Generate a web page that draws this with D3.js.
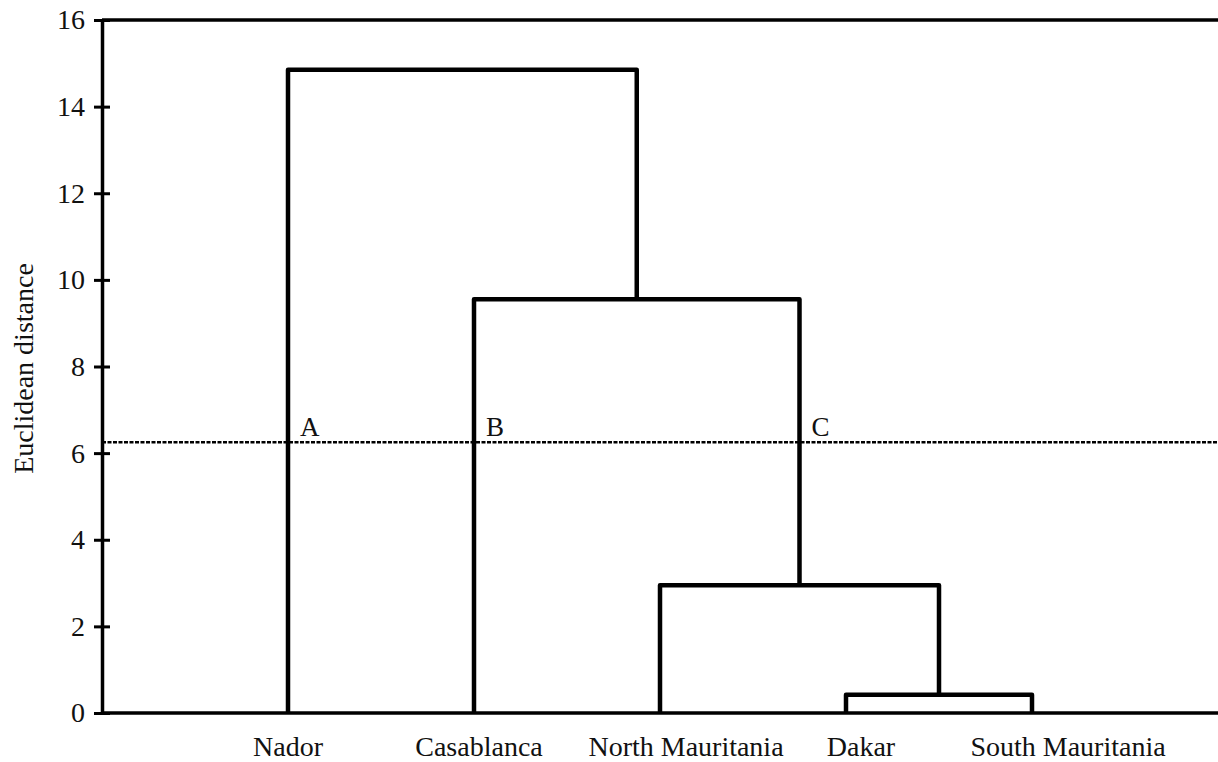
<!DOCTYPE html>
<html>
<head>
<meta charset="utf-8">
<script src="https://cdn.jsdelivr.net/npm/d3@7"></script>
</head>
<body style="margin:0; background:#fff">
<svg id="chart"></svg>
<script>
// leaves in plotting order
const leaves = ["Nador", "Casablanca", "North Mauritania", "Dakar", "South Mauritania"];
// merges, bottom up: m0, m1, m2, m3
const mergeLeft = ["Dakar", "North Mauritania", "Casablanca", "Nador"];
const mergeRight = ["South Mauritania", "m0", "m1", "m2"];
const mergeHeight = [0.42, 2.95, 9.55, 14.85];
const cutHeight = 6.25;
const cutLabels = ["A", "B", "C"];
const yTicks = [0, 2, 4, 6, 8, 10, 12, 14, 16];
const yTitle = "Euclidean distance";

const serif = '"Liberation Serif"';

width = 1218;
height = 762;
margin = { top: 20, right: 0, bottom: 49, left: 102 };

svg = d3.select("#chart")
  .attr("width", width)
  .attr("height", height)
  .style("font-family", serif);

var x = d3.scaleLinear()
  .domain([0, leaves.length + 1])
  .range([margin.left, width - margin.right]);

var y = d3.scaleLinear()
  .domain([0, 16])
  .range([height - margin.bottom, margin.top]);

// node positions
var nodes = {};
leaves.forEach((d, i) => { nodes[d] = { x: x(i + 1), h: 0 }; });
mergeHeight.forEach((h, i) => {
  var l = nodes[mergeLeft[i]], r = nodes[mergeRight[i]];
  nodes["m" + i] = { x: (l.x + r.x) / 2, h: h };
  l.parent = h; r.parent = h;
});

// dendrogram links
svg.append("g")
  .selectAll("path")
  .data(mergeHeight)
  .join("path")
  .attr("d", (h, i) => {
    var l = nodes[mergeLeft[i]], r = nodes[mergeRight[i]];
    return "M" + l.x + "," + y(l.h) + "V" + y(h) + "H" + r.x + "V" + y(r.h);
  })
  .attr("fill", "none")
  .attr("stroke", "#000")
  .attr("stroke-width", 4.5)
  .attr("stroke-linejoin", "round");

// frame: top and bottom lines
svg.append("line")
  .attr("x1", margin.left).attr("x2", width)
  .attr("y1", y(16)).attr("y2", y(16))
  .attr("stroke", "#000").attr("stroke-width", 3.5);
svg.append("line")
  .attr("x1", margin.left).attr("x2", width)
  .attr("y1", y(0)).attr("y2", y(0))
  .attr("stroke", "#000").attr("stroke-width", 3.5);

// y axis
var yAxis = svg.append("g")
  .attr("transform", `translate(${margin.left},0)`)
  .call(d3.axisLeft(y).tickValues(yTicks).tickSize(8).tickSizeOuter(0).tickPadding(9));
yAxis.select(".domain").attr("stroke-width", 3.5);
yAxis.selectAll(".tick line").attr("x1", 8).attr("stroke-width", 3);
yAxis.selectAll(".tick text")
  .style("font-family", serif)
  .style("font-size", "28px")
  .attr("fill", "#111");

svg.append("text")
  .attr("transform", `translate(33, ${y(8) + 2}) rotate(-90)`)
  .attr("text-anchor", "middle")
  .style("font-family", serif)
  .style("font-size", "28px")
  .attr("fill", "#111")
  .text(yTitle);

// cut line
svg.append("line")
  .attr("x1", margin.left).attr("x2", width)
  .attr("y1", y(cutHeight)).attr("y2", y(cutHeight))
  .attr("stroke", "#000")
  .attr("stroke-width", 2.5)
  .attr("stroke-dasharray", "4,1.5");

// clusters cut by the line
var cuts = Object.values(nodes)
  .filter(n => n.h < cutHeight && n.parent > cutHeight)
  .sort((a, b) => a.x - b.x);

svg.append("g")
  .selectAll("text")
  .data(cuts)
  .join("text")
  .attr("x", d => d.x + 12)
  .attr("y", y(cutHeight) - 6)
  .style("font-family", serif)
  .style("font-size", "27px")
  .attr("fill", "#111")
  .text((d, i) => cutLabels[i]);

// leaf labels
var labelNudge = [0, 5, 26, 15, 36];
svg.append("g")
  .selectAll("text")
  .data(leaves)
  .join("text")
  .attr("x", (d, i) => nodes[d].x + labelNudge[i])
  .attr("y", 756)
  .attr("text-anchor", "middle")
  .style("font-family", serif)
  .style("font-size", "28px")
  .attr("fill", "#111")
  .text(d => d);
</script>
</body>
</html>
